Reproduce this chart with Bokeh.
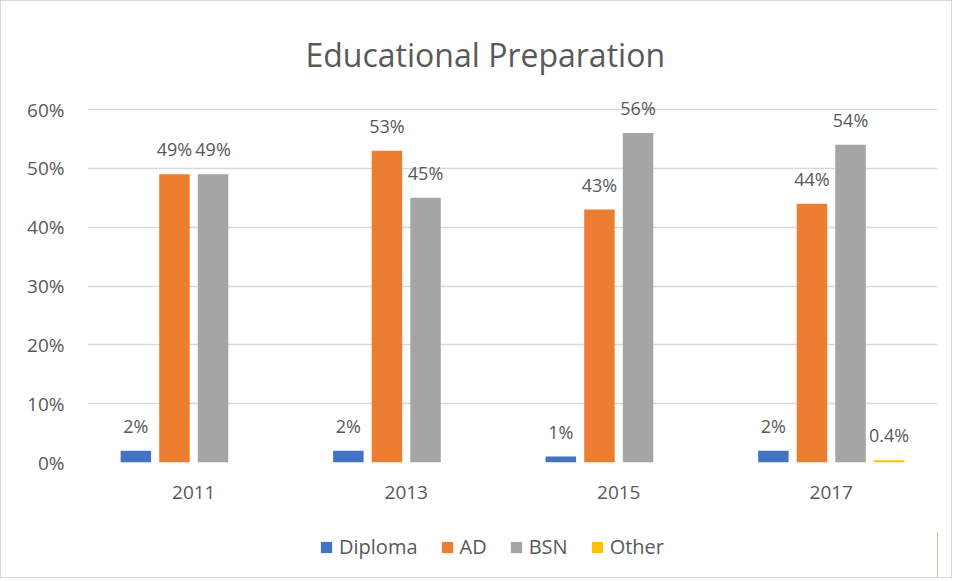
from bokeh.plotting import figure
from bokeh.layouts import column
from bokeh.models import (ColumnDataSource, FactorRange, Range1d, FixedTicker,
                          PrintfTickFormatter, Legend, LegendItem, LabelSet)
from bokeh.core.properties import value
from bokeh.transform import dodge
from bokeh.embed import file_html
from bokeh.resources import INLINE

years = ["2011", "2013", "2015", "2017"]
series = ["Diploma", "AD", "BSN", "Other"]
diploma = [2, 2, 1, 2]
ad = [49, 53, 43, 44]
bsn = [49, 45, 56, 54]
other = [0, 0, 0, 0.4]
colors = ["#4472C4", "#ED7D31", "#A5A5A5", "#FFC000"]
y_ticks = [0, 10, 20, 30, 40, 50, 60]

FONT = "Open Sans"
TXT = "#595959"

p = figure(x_range=FactorRange(factors=years, range_padding=0),
           y_range=Range1d(0, 63.4),
           width=950, height=530, output_backend="svg", toolbar_location=None,
           min_border_left=86, min_border_right=14, min_border_top=88,
           min_border_bottom=69,
           title="Educational Preparation")
p.title.align = "left"
p.title.offset = 218
p.title.text_font = FONT
p.title.text_font_size = "32px"
p.title.text_font_style = "normal"
p.title.text_color = TXT
p.title.standoff = 27
p.outline_line_color = None

data = {"year": years}
vals = [diploma, ad, bsn, other]
for name, v in zip(series, vals):
    data[name] = v
    data[name + "_lbl"] = [("%g%%" % x) if x > 0 else "" for x in v]
src = ColumnDataSource(data)

step = 0.1816
offsets = [-1.5 * step, -0.5 * step, 0.5 * step, 1.5 * step]
for name, col, off in zip(series, colors, offsets):
    p.vbar(x=dodge("year", off, range=p.x_range), top=name, width=0.1435,
           source=src, fill_color=col, line_color=None)
    lbl = LabelSet(x=dodge("year", off, range=p.x_range), y=name, text=name + "_lbl",
                   source=src, text_align="center", text_baseline="bottom",
                   y_offset=13, text_font=value(FONT), text_font_size=value("18px"),
                   text_color=TXT)
    p.add_layout(lbl)

p.yaxis.ticker = FixedTicker(ticks=y_ticks)
p.yaxis.formatter = PrintfTickFormatter(format="%d%%")
for ax in (p.xaxis, p.yaxis):
    ax.axis_line_color = None
    ax.major_tick_line_color = None
    ax.minor_tick_line_color = None
    ax.major_tick_out = 0
    ax.major_tick_in = 0
    ax.major_label_text_font = FONT
    ax.major_label_text_font_size = "19px"
    ax.major_label_text_color = TXT
p.yaxis.major_label_standoff = 23
p.xaxis.major_label_standoff = 23
p.xgrid.grid_line_color = None
p.ygrid.grid_line_color = "#d9d9d9"
p.ygrid.grid_line_width = 1.3

# legend strip below the chart (swatch renderers sit outside its visible range)
f2 = figure(x_range=Range1d(0, 1), y_range=Range1d(0, 1), width=950, height=46,
            output_backend="svg", toolbar_location=None,
            x_axis_type=None, y_axis_type=None,
            min_border_left=0, min_border_right=0, min_border_top=0,
            min_border_bottom=0)
f2.outline_line_color = None
f2.xgrid.grid_line_color = None
f2.ygrid.grid_line_color = None
items = []
for name, col in zip(series, colors):
    r = f2.vbar(x=[5], top=[1], width=0.1, fill_color=col, line_color=None)
    items.append(LegendItem(label=name, renderers=[r]))
legend = Legend(items=items, orientation="horizontal", location=(232, 17),
                glyph_width=14, glyph_height=14, label_standoff=6, spacing=22,
                label_text_font=FONT, label_text_font_size="20px",
                label_text_color=TXT, border_line_color=None,
                background_fill_alpha=0, padding=6, margin=0)
f2.add_layout(legend, "center")

layout = column(p, f2, spacing=0,
                styles={"border": "1px solid #d9d9d9"})

open("out.html", "w").write(file_html(layout, INLINE))
